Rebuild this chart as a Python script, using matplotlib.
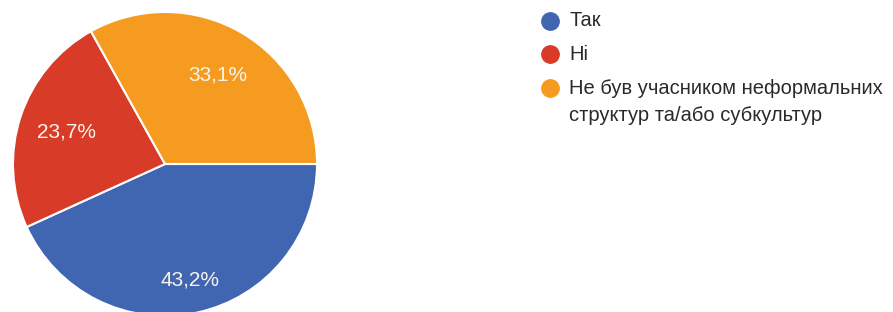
import matplotlib.pyplot as plt
from matplotlib.lines import Line2D

plt.rcParams['font.family'] = ['Liberation Sans', 'DejaVu Sans']

# Survey answers (share of respondents, %)
labels = ['Так', 'Ні', 'Не був учасником неформальних\nструктур та/або субкультур']
values = [43.2, 23.7, 33.1]
colors = ['#4066b2', '#d83b27', '#f59b1f']

fig = plt.figure(figsize=(8.93, 3.12), dpi=100)
fig.patch.set_facecolor('white')

# pie axes: radius 152 px, centre at (165, 164) px from top-left
W, H = 893, 312
r = 152
ax = fig.add_axes([(165 - r) / W, (H - 164 - r) / H, 2 * r / W, 2 * r / H])
wedges, texts, autotexts = ax.pie(
    values, colors=colors, startangle=0, counterclock=False,
    autopct=lambda p: f'{p:.1f}%'.replace('.', ','), pctdistance=0.68,
    wedgeprops=dict(edgecolor='white', linewidth=1.5),
    textprops=dict(color='#f8f4ea', fontsize=15))
# Google-style label placement: largest slice label sits a bit further out
x, y = autotexts[0].get_position()
autotexts[0].set_position((x * 1.15, y * 1.15))
ax.set_xlim(-1, 1)
ax.set_ylim(-1, 1)
ax.set_aspect('equal')
ax.axis('off')

# legend drawn by hand
ys = [21, 54, 88]
for lab, col, yy in zip(labels, colors, ys):
    fy = 1 - yy / H
    fig.add_artist(Line2D([550 / W], [fy], marker='o', markersize=12.5,
                          color=col, transform=fig.transFigure))
    if '\n' in lab:
        # wrapped label: first line centred on the marker
        fig.text(569 / W, 1 - (yy - 9) / H, lab, fontsize=14.5, color='#2a2a2a',
                 va='top', linespacing=1.55, transform=fig.transFigure)
    else:
        fig.text(569 / W, fy, lab, fontsize=14.5, color='#2a2a2a',
                 va='center', transform=fig.transFigure)

fig.savefig('out.png', dpi=100)
